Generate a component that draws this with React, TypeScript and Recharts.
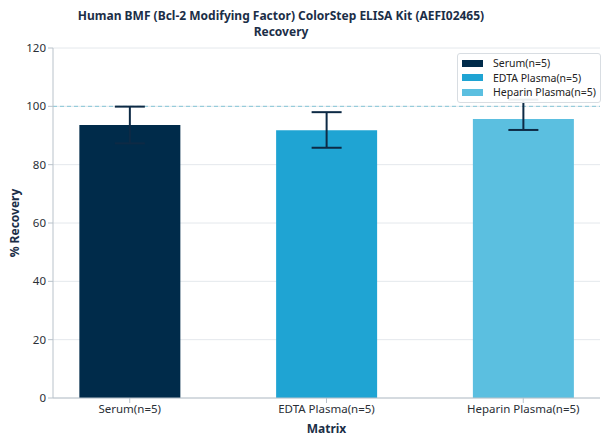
import React from "react";
import {
  BarChart,
  Bar,
  Cell,
  XAxis,
  YAxis,
  CartesianGrid,
  ReferenceLine,
  ErrorBar,
  Label,
} from "recharts";

const categories = ["Serum(n=5)", "EDTA Plasma(n=5)", "Heparin Plasma(n=5)"];
const recovery = [93.6, 91.8, 95.7];
const errLow = [6.3, 6.0, 3.8];
const errHigh = [6.3, 6.2, 6.6];
const colors = ["#002b4a", "#1fa4d3", "#5bbfe0"];
const yTicks = [0, 20, 40, 60, 80, 100, 120];

const data = categories.map((name, i) => ({
  x: i,
  name,
  value: recovery[i],
  err: [errLow[i], errHigh[i]],
}));

const FONT = "'Noto Sans', sans-serif";
const NAVY = "#1b2e47";

// legend drawn as an overlay so it does not steal plot height
function LegendBox() {
  return (
    <div
      style={{
        position: "absolute",
        left: 457,
        top: 53,
        border: "1px solid #d8dde2",
        borderRadius: 3,
        background: "rgba(255,255,255,0.92)",
        padding: "2px 4px 2px 4px",
        fontFamily: FONT,
        fontSize: 10.5,
        color: "#222",
      }}
    >
      {categories.map((c, i) => (
        <div key={c} style={{ display: "flex", alignItems: "center", height: 14.5 }}>
          <span
            style={{
              display: "inline-block",
              width: 21,
              height: 7,
              background: colors[i],
              marginRight: 10,
            }}
          />
          <span>{c}</span>
        </div>
      ))}
    </div>
  );
}

export default function App() {
  return (
    <div style={{ position: "absolute", left: 0, top: 0, width: 608, height: 444, background: "#fff" }}>
      <BarChart
        width={608}
        height={444}
        data={data}
        margin={{ top: 48, right: 8, bottom: 16, left: 28 }}
        style={{ position: "absolute", left: 0, top: 0 }}
      >
        <CartesianGrid vertical={false} stroke="#e4e8ec" />
        <XAxis
          dataKey="x"
          type="number"
          domain={[-0.39, 2.39]}
          ticks={[0, 1, 2]}
          tickFormatter={(v: number) => categories[v]}
          interval={0}
          height={30}
          tickSize={5}
          stroke="#b9c2ca"
          tick={{ fill: "#2a2f36", fontSize: 11.5, fontFamily: FONT }}
        >
          <Label
            value="Matrix"
            position="insideBottom"
            offset={-5}
            style={{ fill: NAVY, fontWeight: 700, fontSize: 12, fontFamily: FONT }}
          />
        </XAxis>
        <YAxis
          type="number"
          domain={[0, 120]}
          ticks={yTicks}
          width={25}
          tickSize={5}
          stroke="#b9c2ca"
          tick={{ fill: "#2a2f36", fontSize: 11.5, fontFamily: FONT }}
        >
          <Label
            content={() => (
              <text
                x={14}
                y={223}
                transform="rotate(-90 14 223)"
                textAnchor="middle"
                dominantBaseline="central"
                fill={NAVY}
                fontWeight={700}
                fontSize={12}
                fontFamily={FONT}
              >
                % Recovery
              </text>
            )}
          />
        </YAxis>
        <ReferenceLine y={100} stroke="#86c6d6" strokeDasharray="4 3" />
        <Bar dataKey="value" barSize={101} isAnimationActive={false}>
          {data.map((d, i) => (
            <Cell key={d.name} fill={colors[i]} />
          ))}
          <ErrorBar dataKey="err" width={15} stroke="#0d2a45" strokeWidth={2} />
        </Bar>
      </BarChart>
      <div
        style={{
          position: "absolute",
          left: 0,
          width: 562,
          top: 8,
          textAlign: "center",
          fontFamily: FONT,
          fontWeight: 700,
          fontSize: 12,
          lineHeight: "16px",
          color: NAVY,
        }}
      >
        Human BMF (Bcl-2 Modifying Factor) ColorStep ELISA Kit (AEFI02465)
        <br />
        Recovery
      </div>
      <LegendBox />
    </div>
  );
}
